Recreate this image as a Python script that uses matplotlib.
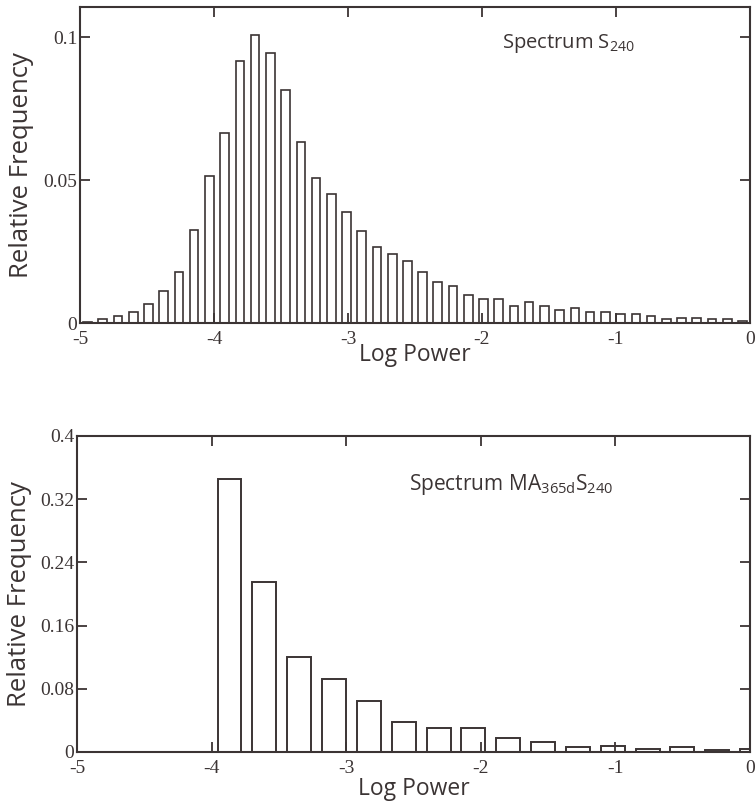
import matplotlib
matplotlib.use('Agg')
import matplotlib.pyplot as plt

# Spectrum S240 : relative frequency per log-power bin
top_centers = [-4.943, -4.830, -4.716, -4.602, -4.489, -4.375, -4.261, -4.148, -4.034, -3.920,
               -3.807, -3.693, -3.580, -3.466, -3.352, -3.239, -3.125, -3.011, -2.898, -2.784,
               -2.670, -2.557, -2.443, -2.330, -2.216, -2.102, -1.989, -1.875, -1.761, -1.648,
               -1.534, -1.420, -1.307, -1.193, -1.080, -0.966, -0.852, -0.739, -0.625, -0.511,
               -0.398, -0.284, -0.170, -0.057]
top_freq = [0.0005, 0.0014, 0.0026, 0.0040, 0.0065, 0.0113, 0.0177, 0.0325, 0.0514, 0.0665,
            0.0917, 0.1007, 0.0943, 0.0815, 0.0632, 0.0508, 0.0451, 0.0389, 0.0322, 0.0267,
            0.0241, 0.0218, 0.0177, 0.0142, 0.0129, 0.0098, 0.0084, 0.0084, 0.0061, 0.0075,
            0.0061, 0.0045, 0.0051, 0.0040, 0.0040, 0.0030, 0.0030, 0.0024, 0.0014, 0.0019,
            0.0019, 0.0014, 0.0014, 0.0008]

# Spectrum MA365d S240
bot_centers = [-3.867, -3.608, -3.349, -3.091, -2.832, -2.573, -2.314, -2.055, -1.797, -1.538,
               -1.279, -1.020, -0.761, -0.503, -0.244, 0.015]
bot_freq = [0.345, 0.215, 0.120, 0.092, 0.065, 0.038, 0.031, 0.031, 0.018, 0.013,
            0.006, 0.008, 0.0035, 0.006, 0.002, 0.004]

x_ticks = [-5, -4, -3, -2, -1, 0]
top_yticks = [0, 0.05, 0.1]
top_ylabels = ['0', '0.05', '0.1']
bot_yticks = [0, 0.08, 0.16, 0.24, 0.32, 0.4]
bot_ylabels = ['0', '0.08', '0.16', '0.24', '0.32', '0.4']

ink = '#3b3434'
sans = 'Open Sans'
serif = 'Liberation Serif'

fig = plt.figure(figsize=(7.55, 8.1), dpi=100)
ax1 = fig.add_axes([80/755, 1 - 323/810, 670/755, 316/810])
ax2 = fig.add_axes([77/755, 1 - 752/810, 673/755, 316/810])


def style(ax, yticks, ylabels, ylab_x, xlab_y):
    ax.set_xlim(-5, 0)
    ax.set_xticks(x_ticks)
    ax.set_xticklabels([str(t) for t in x_ticks], family=serif, fontsize=14, color=ink)
    ax.set_yticks(yticks)
    ax.set_yticklabels(ylabels, family=serif, fontsize=14, color=ink)
    ax.tick_params(direction='in', top=True, right=True, length=7, width=1.3, color=ink)
    ax.tick_params(axis='x', pad=6)
    ax.tick_params(axis='y', pad=2)
    for s in ax.spines.values():
        s.set_color(ink)
        s.set_linewidth(1.5)
    ax.set_xlabel('Log Power', family=sans, fontsize=16.5, color=ink)
    ax.set_ylabel('Relative Frequency', family=sans, fontsize=18.5, color=ink)
    ax.yaxis.set_label_coords(ylab_x, 0.5)
    ax.xaxis.set_label_coords(0.5, xlab_y)


ax1.bar(top_centers, top_freq, width=0.064, facecolor='white', edgecolor=ink, linewidth=1.2)
style(ax1, top_yticks, top_ylabels, -0.069, -0.063)
ax1.set_ylim(0, 0.1105)
ax1.text(-1.85, 0.096, r'Spectrum S$_{\mathregular{240}}$', family=sans, fontsize=14.5, color=ink)

ax2.bar(bot_centers, bot_freq, width=0.178, facecolor='white', edgecolor=ink, linewidth=1.4)
style(ax2, bot_yticks, bot_ylabels, -0.067, -0.079)
ax2.set_ylim(0, 0.4)
ax2.text(-2.53, 0.332, r'Spectrum MA$_{\mathregular{365d}}$S$_{\mathregular{240}}$',
         family=sans, fontsize=15, color=ink)

fig.savefig('out.png', dpi=100)
